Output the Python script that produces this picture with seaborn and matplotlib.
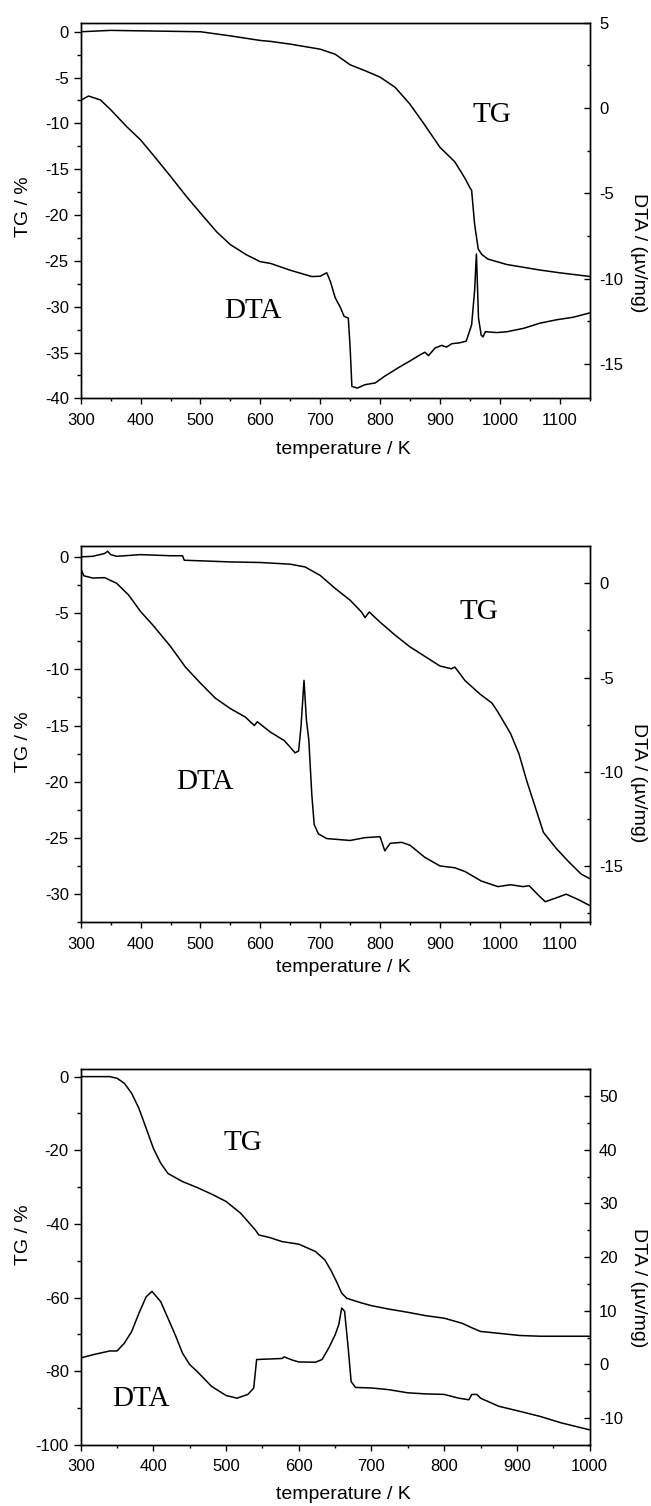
import numpy as np
import pandas as pd
import seaborn as sns
import matplotlib.pyplot as plt
from matplotlib.ticker import MultipleLocator

# ---- panel 1 ----
p1_x_tg = [300, 350, 400, 450, 500, 550, 600, 617, 650, 700, 725, 750, 775, 800, 825, 850, 875, 900,
           925, 942, 950, 953, 958, 964, 970, 980, 1012, 1067, 1100, 1150]
p1_tg = [0.0, 0.15, 0.1, 0.05, 0.0, -0.45, -0.95, -1.05, -1.35, -1.9, -2.45, -3.6, -4.25, -4.95, -6.05,
         -7.9, -10.2, -12.6, -14.2, -16.0, -17.0, -17.3, -21.0, -23.7, -24.3, -24.8, -25.4, -26.0, -26.3, -26.7]
p1_x_dta = [300, 313, 333, 350, 377, 400, 421, 450, 477, 500, 527, 550, 577, 600, 617, 650, 686, 700, 711,
            717, 725, 734, 740, 747, 750, 753, 762, 775, 792, 808, 831, 853, 867, 875, 881, 892, 903, 911,
            920, 933, 944, 953, 958, 961, 964.5, 969, 972, 976, 995, 1012, 1040, 1067, 1095, 1123, 1150]
p1_dta = [0.45, 0.7, 0.47, -0.1, -1.1, -1.87, -2.75, -4.0, -5.2, -6.15, -7.25, -8.0, -8.6, -9.0, -9.1, -9.5,
          -9.87, -9.85, -9.65, -10.15, -11.1, -11.7, -12.2, -12.3, -14.0, -16.3, -16.4, -16.2, -16.1, -15.7,
          -15.2, -14.75, -14.45, -14.3, -14.5, -14.05, -13.9, -14.0, -13.8, -13.75, -13.65, -12.7, -10.7,
          -8.55, -12.3, -13.3, -13.4, -13.1, -13.15, -13.1, -12.9, -12.6, -12.4, -12.25, -12.0]

# ---- panel 2 ----
p2_x_tg = [300, 320, 340, 345, 350, 360, 400, 450, 470, 473, 500, 550, 600, 617, 650, 675, 700, 725, 750,
           769, 775, 782, 800, 825, 850, 875, 900, 919, 925, 942, 967, 987, 997, 1018, 1032, 1045, 1059,
           1073, 1094, 1115, 1136, 1150]
p2_tg = [0.0, 0.05, 0.3, 0.5, 0.2, 0.05, 0.2, 0.1, 0.1, -0.3, -0.35, -0.45, -0.5, -0.55, -0.65, -0.9, -1.65,
         -2.8, -3.85, -4.9, -5.4, -4.9, -5.8, -6.95, -8.0, -8.85, -9.7, -9.95, -9.8, -11.0, -12.2, -13.0,
         -13.8, -15.7, -17.5, -19.9, -22.2, -24.5, -25.9, -27.1, -28.2, -28.6]
p2_x_dta = [300, 305, 320, 340, 360, 380, 400, 420, 450, 475, 500, 525, 550, 575, 590, 595, 617, 640, 650,
            658, 664, 668, 673, 677, 681, 686, 690, 697, 711, 750, 775, 800, 808, 817, 836, 850, 875, 900,
            925, 942, 969, 997, 1018, 1039, 1049, 1066, 1076, 1094, 1111, 1132, 1150]
p2_dta = [0.8, 0.4, 0.28, 0.3, 0.0, -0.62, -1.5, -2.2, -3.35, -4.45, -5.3, -6.1, -6.65, -7.1, -7.55, -7.35,
          -7.9, -8.35, -8.7, -9.0, -8.9, -7.6, -5.15, -7.25, -8.3, -11.2, -12.8, -13.3, -13.55, -13.65,
          -13.5, -13.45, -14.2, -13.8, -13.75, -13.9, -14.55, -15.0, -15.1, -15.3, -15.8, -16.1, -16.0,
          -16.1, -16.05, -16.6, -16.9, -16.7, -16.5, -16.8, -17.1]

# ---- panel 3 ----
p3_x_tg = [300, 340, 350, 360, 370, 380, 390, 400, 410, 420, 440, 460, 480, 500, 520, 540, 545, 560, 577,
           600, 623, 636, 645, 652, 659, 666, 687, 700, 723, 750, 774, 800, 825, 838, 850, 875, 904, 932,
           961, 1000]
p3_tg = [0.0, 0.0, -0.45, -1.8, -4.5, -8.6, -14.0, -19.5, -23.5, -26.3, -28.5, -30.1, -31.9, -33.9, -37.1,
         -41.6, -43.0, -43.7, -44.8, -45.5, -47.5, -49.8, -52.9, -55.7, -58.8, -60.2, -61.5, -62.2, -63.1,
         -64.0, -64.9, -65.6, -67.0, -68.2, -69.2, -69.7, -70.3, -70.5, -70.5, -70.5]
p3_x_dta = [300, 320, 340, 350, 360, 370, 380, 390, 398, 410, 420, 430, 440, 450, 460, 480, 500, 515, 530,
            538, 542, 550, 577, 580, 591, 600, 623, 632, 641, 650, 655, 659, 663, 668, 672, 678, 700, 723,
            750, 774, 800, 820, 834, 838, 845, 850, 855, 875, 904, 932, 961, 1000]
p3_dta = [1.2, 1.9, 2.5, 2.5, 3.95, 6.1, 9.5, 12.6, 13.6, 11.7, 8.6, 5.5, 2.1, -0.05, -1.3, -4.1, -5.8, -6.3,
          -5.6, -4.4, 0.9, 0.95, 1.1, 1.4, 0.8, 0.45, 0.4, 0.9, 3.0, 5.5, 7.4, 10.5, 9.9, 3.0, -3.2, -4.3,
          -4.4, -4.7, -5.3, -5.5, -5.6, -6.3, -6.6, -5.6, -5.6, -6.3, -6.6, -7.8, -8.75, -9.7, -10.9, -12.2]

panels = [
    dict(x_tg=p1_x_tg, tg=p1_tg, x_dta=p1_x_dta, dta=p1_dta, xlim=(300, 1150), tglim=(-40, 1),
         dtalim=(-17, 5), tg_major=5, dta_major=5, tg_pos=(987, -9.1), dta_pos=(588, -30.5),
         rect=[0.124, 0.7355, 0.7816, 0.2495], ly=0.51, ry=0.387, xly=-0.135),
    dict(x_tg=p2_x_tg, tg=p2_tg, x_dta=p2_x_dta, dta=p2_dta, xlim=(300, 1150), tglim=(-32.5, 1),
         dtalim=(-18, 2), tg_major=5, dta_major=5, tg_pos=(966, -4.9), dta_pos=(508, -20.0),
         rect=[0.124, 0.3875, 0.7816, 0.2502], ly=0.48, ry=0.372, xly=-0.12),
    dict(x_tg=p3_x_tg, tg=p3_tg, x_dta=p3_x_dta, dta=p3_dta, xlim=(300, 1000), tglim=(-100, 2),
         dtalim=(-15, 55), tg_major=20, dta_major=10, tg_pos=(523, -18.1), dta_pos=(383, -87.6),
         rect=[0.124, 0.0406, 0.7816, 0.2494], ly=0.56, ry=0.418, xly=-0.133),
]

sns.set_style('ticks')
plt.rcParams['font.family'] = ['Liberation Sans', 'DejaVu Sans']
plt.rcParams['axes.unicode_minus'] = False
plt.rcParams['axes.linewidth'] = 1.0
plt.rcParams['text.color'] = 'black'
plt.rcParams['axes.labelcolor'] = 'black'
plt.rcParams['xtick.color'] = 'black'
plt.rcParams['ytick.color'] = 'black'
plt.rcParams['axes.edgecolor'] = 'black'

fig = plt.figure(figsize=(6.51, 15.06), dpi=100)

for p in panels:
    ax = fig.add_axes(p['rect'])
    ax2 = ax.twinx()
    tg_df = pd.DataFrame({'T': p['x_tg'], 'TG': p['tg']})
    dta_df = pd.DataFrame({'T': p['x_dta'], 'DTA': p['dta']})
    sns.lineplot(data=tg_df, x='T', y='TG', ax=ax, color='black', lw=1.1, estimator=None)
    sns.lineplot(data=dta_df, x='T', y='DTA', ax=ax2, color='black', lw=1.1, estimator=None)

    ax.set_xlim(*p['xlim'])
    ax.set_ylim(*p['tglim'])
    ax2.set_ylim(*p['dtalim'])

    ax.xaxis.set_major_locator(MultipleLocator(100))
    ax.xaxis.set_minor_locator(MultipleLocator(50))
    ax.yaxis.set_major_locator(MultipleLocator(p['tg_major']))
    ax.yaxis.set_minor_locator(MultipleLocator(p['tg_major'] / 2))
    ax2.yaxis.set_major_locator(MultipleLocator(p['dta_major']))
    ax2.yaxis.set_minor_locator(MultipleLocator(p['dta_major'] / 2))

    ax.tick_params(axis='x', which='major', direction='out', length=4, width=1, pad=6.5, labelsize=12)
    ax.tick_params(axis='x', which='minor', direction='out', length=2.4, width=1)
    ax.tick_params(axis='y', which='major', direction='out', length=5, width=1, pad=3.6, labelsize=12)
    ax.tick_params(axis='y', which='minor', direction='out', length=3, width=1)
    ax.tick_params(top=False, which='both')
    ax2.tick_params(axis='y', which='major', direction='in', length=4, width=1, pad=6.8, labelsize=12)
    ax2.tick_params(axis='y', which='minor', direction='in', length=2.4, width=1)

    ax.set_xlabel('temperature / K', fontsize=14, va='center', ha='center')
    ax.xaxis.set_label_coords(0.517, p['xly'])
    ax.set_ylabel('TG / %', fontsize=14, va='center', ha='center')
    ax.yaxis.set_label_coords(-0.113, p['ly'])
    ax2.set_ylabel('DTA / (\u00b5v/mg)', fontsize=14, rotation=270, va='center', ha='center')
    ax2.yaxis.set_label_coords(1.097, p['ry'])

    ax.text(*p['tg_pos'], 'TG', family=['Liberation Serif', 'DejaVu Serif'], fontsize=21,
            ha='center', va='center')
    ax.text(*p['dta_pos'], 'DTA', family=['Liberation Serif', 'DejaVu Serif'], fontsize=21,
            ha='center', va='center')

    for sp in list(ax.spines.values()) + list(ax2.spines.values()):
        sp.set_linewidth(1.0)
        sp.set_color('black')

plt.savefig('out.png', dpi=100)
